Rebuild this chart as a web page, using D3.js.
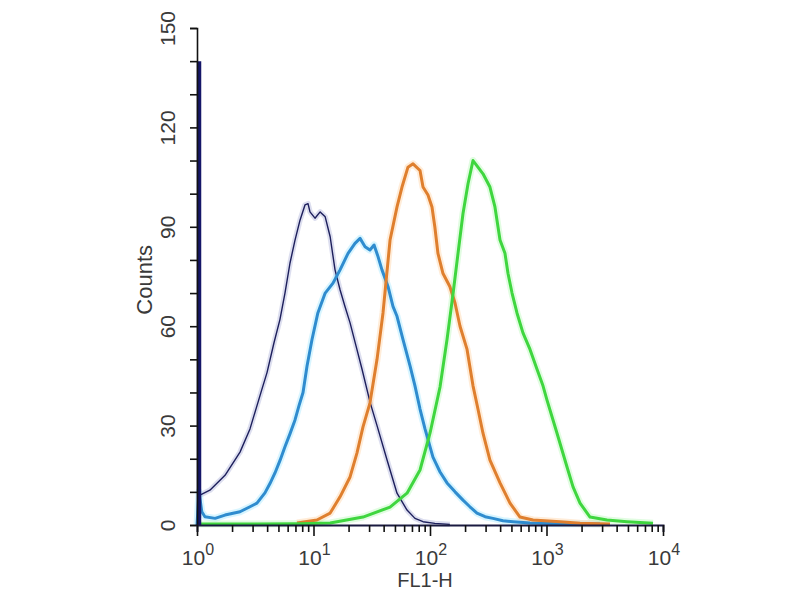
<!doctype html>
<html lang="en">
  <head>
    <meta charset="UTF-8" />
    <title>FL1-H histogram</title>
    <style>
      body { margin: 0; background: #fff; }
      text { font-family: "Liberation Sans", Arial, sans-serif; fill: #3a3a3a; }
    </style>
  </head>
  <body>
    <div id="target"></div>
    <script src="https://d3js.org/d3.v7.min.js"></script>
    <script>
      /* global d3 */

      const width = 800,
        height = 600;

      // FL1-H value (log scale) and counts
      const controlFL1 = [1.06, 1.29, 1.74, 2.34, 2.85, 3.61, 3.99, 4.58, 5.15, 5.69, 6.28, 6.94, 7.66, 8.45, 8.97, 9.33, 10.3, 11.4, 12.6, 13.9, 15.3, 16.9, 18.6, 20.6, 23.2, 26.1, 30.6, 35.1, 42.8, 52.1, 63.5, 74.3, 87.1, 110, 148];
      const controlCounts = [9, 10.5, 15, 22, 29, 41, 46, 55, 62, 70, 79, 86, 92, 96.6, 97, 94.5, 92.6, 94.5, 93, 87, 77, 71, 66, 61, 54, 47, 37, 30, 19.6, 9.6, 4.5, 2, 1, 0.5, 0.2];

      // first-channel pile-up of the control sample
      const spikeFL1 = [1, 1];
      const spikeCounts = [0, 140];

      const blueFL1 = [1.0, 1.04, 1.1, 1.17, 1.43, 1.74, 2.34, 2.85, 3.27, 3.83, 4.23, 4.67, 5.16, 5.69, 6.28, 6.94, 7.51, 8.13, 8.8, 9.71, 10.9, 12.6, 14.7, 16.9, 19.8, 22.7, 25.1, 27.7, 30.5, 33.1, 35.8, 38.7, 43.6, 48.1, 52.1, 58.6, 67.4, 74.3, 82.1, 90.6, 106, 122, 140, 164, 192, 220, 253, 297, 347, 423, 516, 722, 1306, 2880];
      const blueCounts = [0, 10, 4, 2.5, 2, 3, 4, 5.5, 6.6, 9.7, 12.5, 15.7, 19.5, 23.6, 27.5, 31.7, 36, 40, 48, 56, 64, 70, 73, 77, 82, 85, 86.5, 84, 83, 84.5, 81, 77, 72, 66, 63, 56, 48, 42, 35, 29, 20.5, 16, 12.7, 10, 7.5, 5.5, 3.6, 2.5, 2, 1.3, 1, 0.6, 0.4, 0.3];

      const orangeFL1 = [7.22, 10.7, 13.9, 16.9, 20.6, 23.6, 26.6, 30.5, 35.1, 39.5, 45.4, 52.1, 57.5, 64.7, 71.5, 82.1, 87.1, 96.1, 104, 110, 117, 129, 148, 164, 181, 208, 234, 258, 285, 327, 399, 486, 592, 766, 1306, 1940, 3510];
      const orangeCounts = [0.6, 1.5, 3.6, 8.5, 14.5, 21.7, 29.6, 36.8, 50, 64, 86, 96, 102, 108, 109, 107, 102, 99.6, 96, 90, 82, 76, 72, 67, 60, 53, 42, 35, 27.7, 19.6, 12.7, 6.6, 2.4, 1.5, 1, 0.5, 0.3];

      const greenFL1 = [1.0, 1.92, 7.66, 13.9, 26.6, 45.4, 63.5, 82.1, 100, 122, 140, 158, 174, 192, 212, 234, 258, 285, 327, 361, 399, 440, 467, 506, 558, 628, 722, 829, 933, 1010, 1231, 1500, 1689, 1940, 2363, 3307, 4910, 8210];
      const greenCounts = [0.3, 0.3, 0.4, 0.6, 2.4, 5.4, 9.6, 16.6, 27.7, 41.7, 56, 70, 82, 94, 103, 110, 108, 106, 102, 96, 86, 82, 76, 70, 64, 58, 53, 47, 42, 37.7, 27.7, 17.5, 11.5, 6.6, 2.4, 1.5, 1, 0.5];

      const yTickValues = [0, 30, 60, 90, 120, 150];
      const xDecades = [0, 1, 2, 3, 4];

      const series = [
        { fl1: controlFL1, counts: controlCounts, color: "#1d1f5c", width: 1.4, halo: "#9aa0d0" },
        { fl1: blueFL1, counts: blueCounts, color: "#2f8ccf", width: 3, halo: "#8fe3ff" },
        { fl1: orangeFL1, counts: orangeCounts, color: "#df7f2e", width: 3, halo: "#ffc890" },
        { fl1: greenFL1, counts: greenCounts, color: "#3fd63f", width: 3, halo: "#a8f5a8" },
      ];

      const margin = { left: 197, right: 137, top: 28, bottom: 75 };

      const svg = d3
        .select("#target")
        .append("svg")
        .attr("width", width)
        .attr("height", height)
        .attr("viewBox", [0, 0, width, height]);

      const xScale = d3
        .scaleLog()
        .domain([1, 10000])
        .range([margin.left, width - margin.right]);

      const yScale = d3
        .scaleLinear()
        .domain([0, 150])
        .range([height - margin.bottom, margin.top]);

      const line = d3
        .line()
        .x((d) => xScale(d[0]))
        .y((d) => yScale(d[1]));

      const gCurves = svg.append("g");

      // soft halos first, then the curves themselves
      series.forEach((s) => {
        const pts = d3.zip(s.fl1, s.counts);
        gCurves
          .append("path")
          .attr("d", line(pts))
          .attr("fill", "none")
          .attr("stroke", s.halo)
          .attr("stroke-opacity", 0.35)
          .attr("stroke-width", s.width + 4)
          .attr("stroke-linejoin", "round");
      });
      series.forEach((s) => {
        const pts = d3.zip(s.fl1, s.counts);
        gCurves
          .append("path")
          .attr("d", line(pts))
          .attr("fill", "none")
          .attr("stroke", s.color)
          .attr("stroke-width", s.width)
          .attr("stroke-linejoin", "round");
      });

      gCurves
        .append("path")
        .attr("d", line(d3.zip(spikeFL1, spikeCounts)))
        .attr("stroke", "#151668")
        .attr("stroke-width", 4.5)
        .attr("transform", "translate(2,0)");

      // y axis
      const yAxis = svg
        .append("g")
        .attr("transform", `translate(${margin.left},0)`)
        .call(
          d3
            .axisLeft(yScale)
            .tickValues(d3.range(0, 151, 10))
            .tickSize(7)
            .tickFormat((d) => (yTickValues.includes(d) ? d : ""))
        );
      yAxis.select(".domain").attr("stroke", "#111").attr("stroke-width", 1.6);
      yAxis.selectAll(".tick line").attr("stroke", "#111").attr("stroke-width", 1.6);
      yAxis
        .selectAll(".tick text")
        .attr("transform", "rotate(-90)")
        .attr("x", 0)
        .attr("y", -29)
        .attr("dy", "0.35em")
        .attr("text-anchor", "middle")
        .style("font-size", "21px")
        .attr("fill", "#3a3a3a");

      svg
        .append("text")
        .attr("transform", `translate(152,${yScale(74)}) rotate(-90)`)
        .attr("text-anchor", "middle")
        .style("font-size", "22px")
        .text("Counts");

      // x axis
      const xAxis = svg
        .append("g")
        .attr("transform", `translate(0,${yScale(0)})`)
        .call(d3.axisBottom(xScale).tickSizeOuter(0).tickSize(7).tickFormat(""));
      xAxis.select(".domain").attr("stroke", "#1a1a40").attr("stroke-width", 2);
      xAxis
        .selectAll(".tick line")
        .attr("stroke", "#111")
        .attr("stroke-width", 1.6)
        .attr("y2", (d) => (xDecades.includes(Math.round(Math.log10(d) * 1000) / 1000) ? 11 : 7));

      const xLabels = svg
        .append("g")
        .selectAll("text")
        .data(xDecades)
        .join("text")
        .attr("x", (d) => xScale(Math.pow(10, d)) + 1)
        .attr("y", yScale(0) + 40)
        .attr("text-anchor", "middle")
        .style("font-size", "21px");
      xLabels.append("tspan").text("10");
      xLabels
        .append("tspan")
        .attr("dy", -10)
        .style("font-size", "16px")
        .text((d) => d);

      svg
        .append("text")
        .attr("x", xScale(100) - 5)
        .attr("y", yScale(0) + 62)
        .attr("text-anchor", "middle")
        .style("font-size", "20px")
        .text("FL1-H");
    </script>
  </body>
</html>
